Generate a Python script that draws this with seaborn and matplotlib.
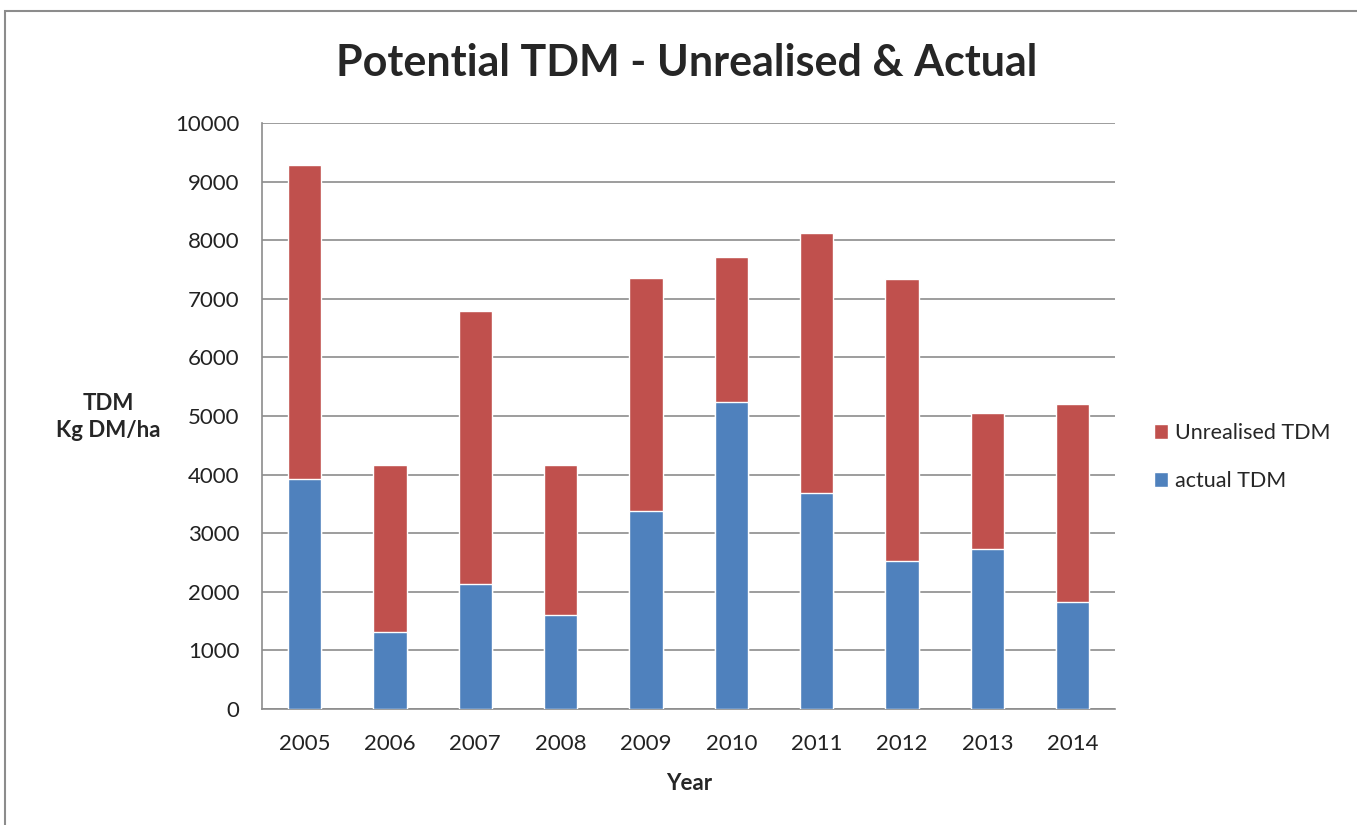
import matplotlib.pyplot as plt
import seaborn as sns
import pandas as pd
from matplotlib.patches import Patch, Rectangle

# values (Kg DM/ha)
years = ['2005', '2006', '2007', '2008', '2009', '2010', '2011', '2012', '2013', '2014']
actual_tdm = [3925, 1320, 2135, 1605, 3380, 5240, 3685, 2525, 2725, 1830]
unrealised_tdm = [5365, 2845, 4660, 2560, 3980, 2475, 4445, 4815, 2320, 3370]

red = '#C0504D'
blue = '#4F81BD'

df = pd.DataFrame({'Year': years, 'actual': actual_tdm, 'unrealised': unrealised_tdm})
df['potential'] = df['actual'] + df['unrealised']

sns.set_style('white')
plt.rcParams['font.family'] = ['Lato', 'DejaVu Sans']

fig = plt.figure(figsize=(13.57, 8.25), dpi=100)
ax = fig.add_axes([0.193, 0.1406, 0.629, 0.7104])

# stacked: full potential in red, actual drawn over it in blue
sns.barplot(data=df, x='Year', y='potential', color=red, width=0.39,
            saturation=1, ax=ax, zorder=2)
sns.barplot(data=df, x='Year', y='actual', color=blue, width=0.39,
            saturation=1, ax=ax, zorder=3)

ax.set_ylim(0, 10000)
ax.set_xlim(-0.5, len(years) - 0.5)
ax.set_yticks(range(0, 10001, 1000))
ax.yaxis.grid(True, color='#8c8c8c', linewidth=1.2, zorder=0)
ax.set_axisbelow(True)

for s in ['top', 'right']:
    ax.spines[s].set_visible(False)
for s in ['left', 'bottom']:
    ax.spines[s].set_color('#8c8c8c')
    ax.spines[s].set_linewidth(1.2)

ax.set_xticks([i - 0.5 for i in range(len(years) + 1)], minor=True)
ax.tick_params(axis='x', which='major', length=0, labelsize=16, pad=18, labelcolor='#222222')
ax.tick_params(axis='x', which='minor', length=5, color='#8c8c8c', width=1.2)
ax.tick_params(axis='y', length=6, color='#8c8c8c', width=1.2, labelsize=16, pad=10,
               labelcolor='#222222')

ax.set_xlabel('Year', fontsize=16, fontweight='bold', labelpad=14)
ax.set_ylabel('')
fig.text(0.08, 0.495, 'TDM\nKg DM/ha', fontsize=16, fontweight='bold',
         ha='center', va='center', linespacing=1.35)

fig.suptitle('Potential TDM - Unrealised & Actual', x=0.506, y=0.948,
             fontsize=31, fontweight='bold')

handles = [Patch(facecolor=red, label='Unrealised TDM'),
           Patch(facecolor=blue, label='actual TDM')]
fig.legend(handles=handles, loc='center left', bbox_to_anchor=(0.836, 0.446),
           frameon=False, fontsize=15.5, handlelength=0.65, handleheight=0.65,
           handletextpad=0.35, labelspacing=1.3)

# chart-area border
fig.patches.append(Rectangle((0.004, -0.01), 1.2, 0.997, transform=fig.transFigure,
                             fill=False, edgecolor='#8c8c8c', linewidth=1.5))

fig.savefig('out.png', dpi=100, facecolor='white')
